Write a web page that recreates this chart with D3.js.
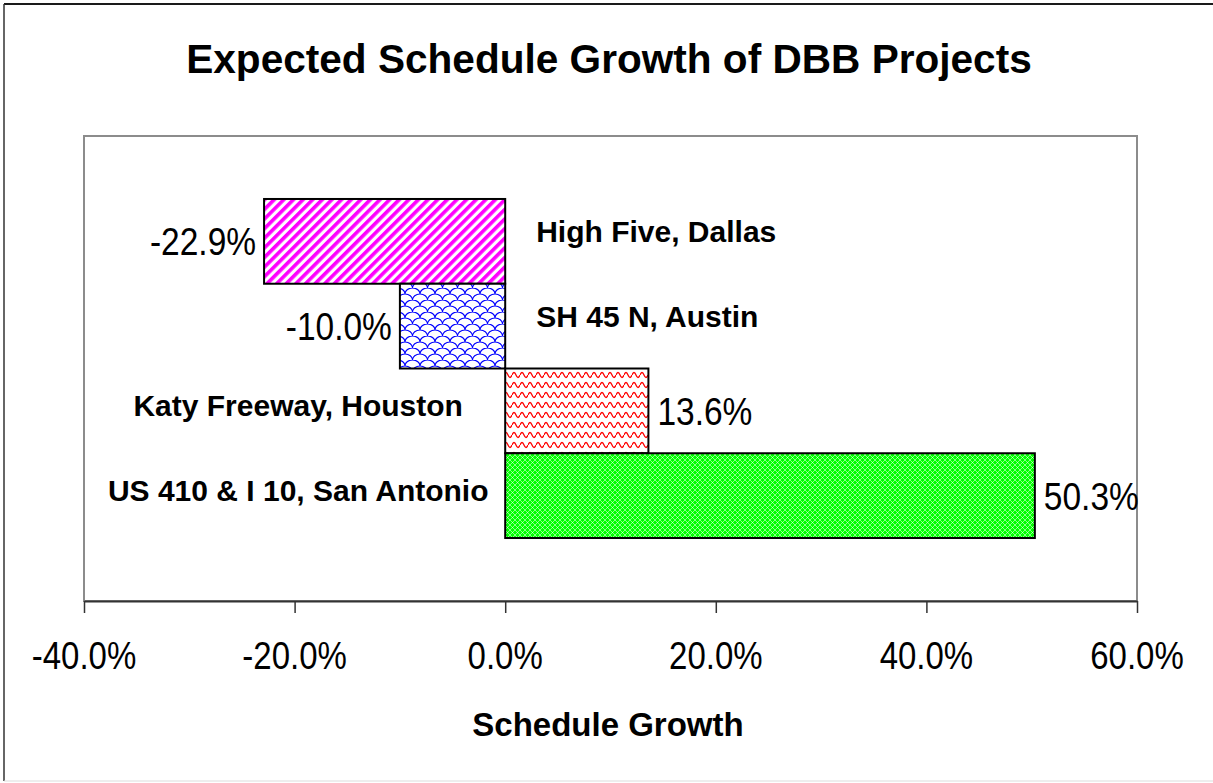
<!DOCTYPE html>
<html>
<head>
<meta charset="utf-8">
<script src="https://cdn.jsdelivr.net/npm/d3@7"></script>
<style>
  html, body { margin: 0; padding: 0; background: #fff; }
  svg { display: block; }
  text { font-family: "Liberation Sans", Arial, Helvetica, sans-serif; fill: #000; }
</style>
</head>
<body>
<svg id="chart" width="1213" height="783"></svg>
<script>
// Projects, top to bottom, and their expected schedule growth (%)
const projects = ["High Five, Dallas", "SH 45 N, Austin", "Katy Freeway, Houston", "US 410 & I 10, San Antonio"];
const growth = [-22.9, -10.0, 13.6, 50.3];
const fillPatterns = ["stripe", "scale", "wave", "mesh"];
const xTicks = [-40, -20, 0, 20, 40, 60];

const W = 1213, H = 783;
const plot = { left: 84, right: 1137, top: 136, bottom: 601 };
const regularStretch = 1.16; // plain labels are drawn slightly tall

const svg = d3.select("#chart");

// ---- fill patterns ----
const defs = svg.append("defs");

const pStripe = defs.append("pattern").attr("id", "stripe")
  .attr("patternUnits", "userSpaceOnUse").attr("width", 6.8).attr("height", 6.8)
  .attr("patternTransform", "rotate(45)");
pStripe.append("rect").attr("width", 6.8).attr("height", 6.8).attr("fill", "#fff");
pStripe.append("rect").attr("width", 3.6).attr("height", 6.8).attr("fill", "#ff00ff");

const pScale = defs.append("pattern").attr("id", "scale")
  .attr("patternUnits", "userSpaceOnUse").attr("width", 15).attr("height", 12);
pScale.append("rect").attr("width", 15).attr("height", 12).attr("fill", "#fff");
pScale.append("path")
  .attr("d", "M0,6 A7.5,6 0 0 1 15,6 M-7.5,12 A7.5,6 0 0 1 7.5,12 M7.5,12 A7.5,6 0 0 1 22.5,12 M-7.5,0 A7.5,6 0 0 1 7.5,0 M7.5,0 A7.5,6 0 0 1 22.5,0")
  .attr("fill", "none").attr("stroke", "#0000ff").attr("stroke-width", 1.1);

const pWave = defs.append("pattern").attr("id", "wave")
  .attr("patternUnits", "userSpaceOnUse").attr("width", 8).attr("height", 10);
pWave.append("rect").attr("width", 8).attr("height", 10).attr("fill", "#fff");
pWave.append("path")
  .attr("d", "M0,5 Q2,0 4,5 Q6,10 8,5")
  .attr("fill", "none").attr("stroke", "#ff0000").attr("stroke-width", 1.3);

const pMesh = defs.append("pattern").attr("id", "mesh")
  .attr("patternUnits", "userSpaceOnUse").attr("width", 5).attr("height", 5);
pMesh.append("rect").attr("width", 5).attr("height", 5).attr("fill", "#00ff00");
pMesh.append("path")
  .attr("d", "M0,0 L5,5 M5,0 L0,5")
  .attr("fill", "none").attr("stroke", "#ffffff").attr("stroke-opacity", 0.65).attr("stroke-width", 0.8);

// ---- outer frame ----
svg.append("rect").attr("width", W).attr("height", H).attr("fill", "#fff");
svg.append("line").attr("x1", 4).attr("x2", W).attr("y1", 4).attr("y2", 4)
  .attr("stroke", "#1a1a1a").attr("stroke-width", 2);
svg.append("line").attr("x1", 4).attr("x2", 4).attr("y1", 4).attr("y2", 781)
  .attr("stroke", "#333").attr("stroke-width", 1.5);
svg.append("line").attr("x1", 4).attr("x2", W).attr("y1", 781).attr("y2", 781)
  .attr("stroke", "#ddd").attr("stroke-width", 1);

// ---- scales ----
const x = d3.scaleLinear().domain([-40, 60]).range([plot.left, plot.right]);
const y = d3.scaleBand().domain(projects).range([plot.top, plot.bottom])
  .paddingInner(0).paddingOuter(0.743);

// ---- plot area ----
svg.append("rect")
  .attr("x", plot.left).attr("y", plot.top)
  .attr("width", plot.right - plot.left).attr("height", plot.bottom - plot.top)
  .attr("fill", "#fff").attr("stroke", "#8c8c8c").attr("stroke-width", 2);

// ---- title ----
svg.append("text")
  .attr("x", 609).attr("y", 73)
  .attr("text-anchor", "middle")
  .style("font-size", "40.6px").style("font-weight", "bold")
  .text("Expected Schedule Growth of DBB Projects");

// ---- bars ----
const rows = projects.map((p, i) => ({ name: p, value: growth[i], fill: fillPatterns[i] }));

svg.append("g").selectAll("rect").data(rows).join("rect")
  .attr("x", d => x(Math.min(0, d.value)))
  .attr("y", d => y(d.name))
  .attr("width", d => Math.abs(x(d.value) - x(0)))
  .attr("height", y.bandwidth())
  .attr("fill", d => `url(#${d.fill})`)
  .attr("stroke", "#000").attr("stroke-width", 2);

// ---- value labels ----
const fmt = v => v.toFixed(1) + "%";
svg.append("g").selectAll("text").data(rows).join("text")
  .attr("transform", d => {
    const cx = d.value < 0 ? x(d.value) - 8 : x(d.value) + 9;
    const cy = y(d.name) + y.bandwidth() / 2 + 14;
    return `translate(${cx},${cy}) scale(1,${regularStretch})`;
  })
  .attr("text-anchor", d => d.value < 0 ? "end" : "start")
  .style("font-size", "33.5px")
  .text(d => fmt(d.value));

// ---- category labels (opposite side of the zero line) ----
svg.append("g").selectAll("text").data(rows).join("text")
  .attr("x", d => d.value < 0 ? x(0) + 31 : x(0) - 207)
  .attr("y", d => y(d.name) + y.bandwidth() / 2 + (d.value < 0 ? 1 : 5))
  .attr("text-anchor", d => d.value < 0 ? "start" : "middle")
  .style("font-size", "30px").style("font-weight", "bold")
  .text(d => d.name);

// ---- x axis ----
const axis = svg.append("g").attr("transform", `translate(0,${plot.bottom})`)
  .call(d3.axisBottom(x).tickValues(xTicks).tickSize(12).tickSizeOuter(0).tickFormat(() => ""));
axis.select(".domain").attr("stroke", "#333").attr("stroke-width", 2);
axis.selectAll(".tick line").attr("stroke", "#333").attr("stroke-width", 1.5);

svg.append("g").selectAll("text").data(xTicks).join("text")
  .attr("transform", d => `translate(${x(d)},${plot.bottom + 68}) scale(1,${regularStretch})`)
  .attr("text-anchor", "middle")
  .style("font-size", "33px")
  .text(d => d.toFixed(1) + "%");

// ---- axis title ----
svg.append("text")
  .attr("x", 608).attr("y", 736)
  .attr("text-anchor", "middle")
  .style("font-size", "33px").style("font-weight", "bold")
  .text("Schedule Growth");
</script>
</body>
</html>
